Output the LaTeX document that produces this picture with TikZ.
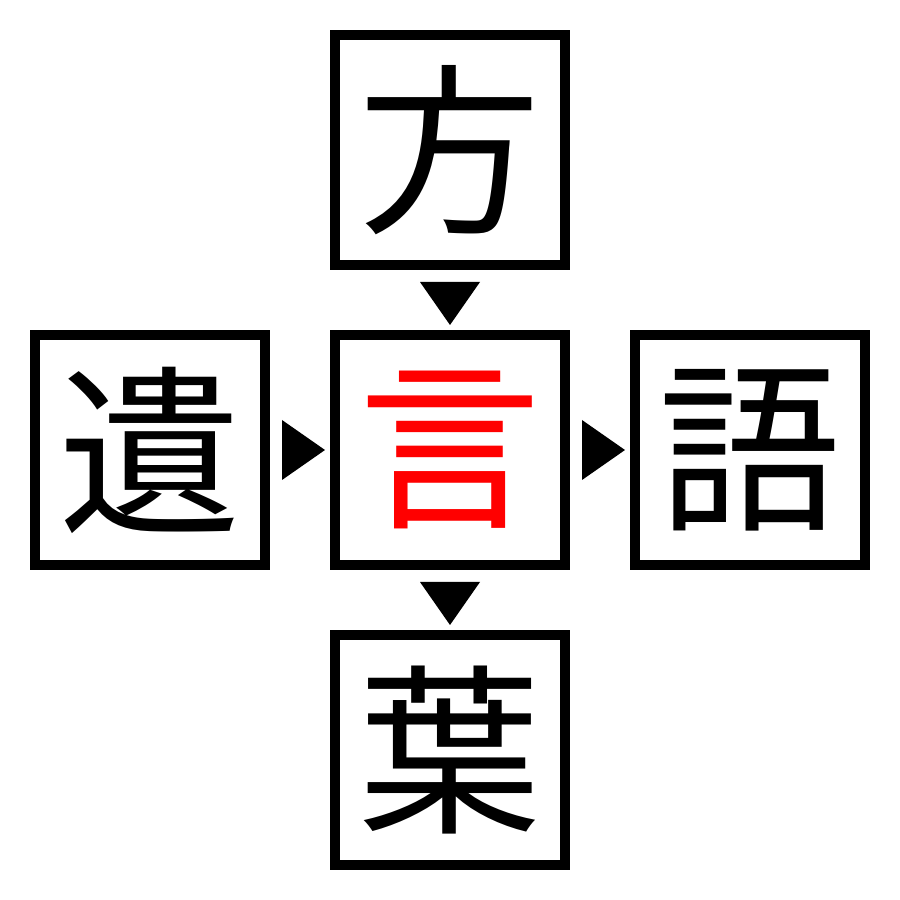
\documentclass[tikz,border=0pt]{standalone}
\usepackage{fontspec}
\newfontfamily\cjk{Noto Sans CJK JP}
\usepackage{tikz}
\usetikzlibrary{calc}
\def\kanjiarrow(#1)(#2)(#3){\fill[shift={($(#1)!0.5!(#2)$)}, rotate=#3] (-0.18, -0.3) -- (-0.18, 0.3) -- (0.25, 0) -- cycle;}

\begin{document}
\begin{tikzpicture}[
		kanji/.style={draw, line width=0.1cm, minimum size=2.3cm, inner sep=0, outer sep=0, font=\cjk\fontsize{52}{52}\selectfont}
	]
			%%%%% START %%%%%
			
			\useasboundingbox (0, 0) rectangle (9, 9);
			
			\node[kanji] (hou) at (4.5, 7.5) {方};
			\node[kanji] (yui) at (1.5, 4.5) {遺};
			\node[kanji, text=red] (gen) at (4.5, 4.5) {言};
			\node[kanji] (go) at (7.5, 4.5) {語};
			\node[kanji] (ha) at (4.5, 1.5) {葉};
			
			\kanjiarrow(hou)(gen)(-90);
			\kanjiarrow(yui)(gen)(0);
			\kanjiarrow(gen)(go)(0);
			\kanjiarrow(gen)(ha)(-90);
			
			%%%%% END %%%%%
\end{tikzpicture}
\end{document}
